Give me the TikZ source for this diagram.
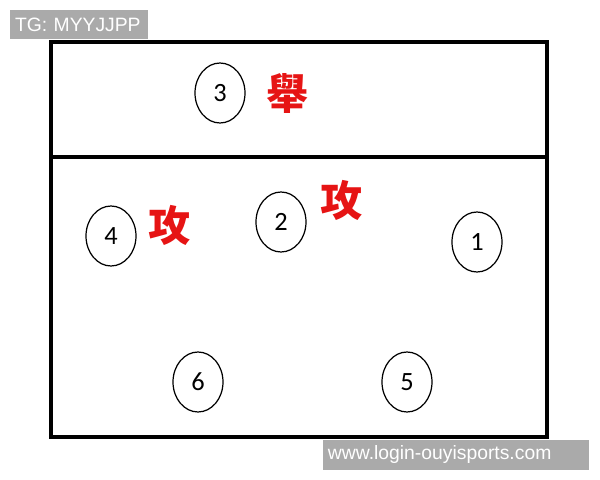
\documentclass[tikz,border=0pt]{standalone}
\usepackage{fontspec}
\usetikzlibrary{shapes.geometric}
\setmainfont{Carlito}
\newfontfamily\cjk{Noto Sans CJK TC}
\newfontfamily\tagfont{Liberation Sans}
\definecolor{court_red}{RGB}{230, 20, 20}
\definecolor{tag_gray}{RGB}{170, 170, 170}

\begin{document}
\begin{tikzpicture}[
        x=0.02cm, y=-0.02cm,
        court/.style={draw=black, line width=2.3pt},
        player/.style={draw=black, line width=0.7pt, ellipse,
            minimum width=1.0cm, minimum height=1.2cm, inner sep=0pt,
            font=\fontsize{15}{15}\selectfont},
        role/.style={text=court_red, font=\cjk\bfseries\fontsize{24}{24}\selectfont},
        tagbox/.style={fill=tag_gray, text=white, inner xsep=0.1cm, inner ysep=0pt,
            align=left, font=\tagfont\fontsize{11}{11}\selectfont}
    ]
    \useasboundingbox (0,0) rectangle (600,480);

    % court
    \draw[court] (51,42) rectangle (547,437);
    \draw[court] (51,157) -- (547,157);

    % players
    \node[player] (p3) at (220,93) {3};
    \node[player] (p4) at (111,236) {4};
    \node[player] (p2) at (281,222) {2};
    \node[player] (p1) at (477,242) {1};
    \node[player] (p6) at (198,382) {6};
    \node[player] (p5) at (407,382) {5};

    % roles
    \node[role] (set) at (288,93) {舉};
    \node[role] (hit4) at (170,225) {攻};
    \node[role] (hit2) at (342,200) {攻};

    % tags
    \node[tagbox, text width=128*0.02cm, minimum height=29*0.02cm] (tag) at (79,24.5) {TG: MYYJJPP};
    \node[tagbox, text width=256*0.02cm, minimum height=30*0.02cm] (site) at (456,455) {www.login-ouyisports.com};
\end{tikzpicture}
\end{document}
